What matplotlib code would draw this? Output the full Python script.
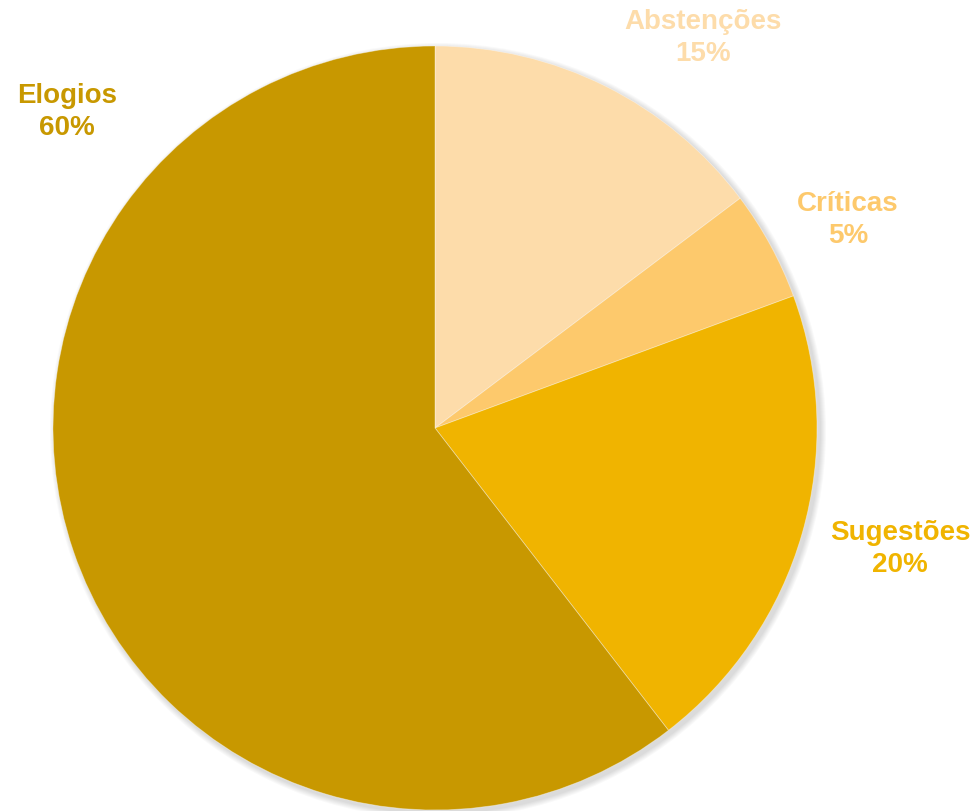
import matplotlib.pyplot as plt
from matplotlib.patches import Circle

# dados do grafico (sentido horario a partir do topo)
categorias = ['Abstenções', 'Críticas', 'Sugestões', 'Elogios']
contagens = [19, 6, 26, 78]
cores = ['#FDDCAA', '#FDC96C', '#F0B400', '#C89800']

total = sum(contagens)

fig = plt.figure(figsize=(9.8, 8.11), dpi=100)
ax = fig.add_axes([0, 0, 1, 1])

centro = (435, 811 - 428)
raio = 382

# sombra suave
for i in range(6):
    ax.add_patch(Circle((centro[0] + 3, centro[1] - 3), raio + 1 + i, color='black',
                        alpha=0.025, lw=0, zorder=0))

ax.pie(contagens, colors=cores, startangle=90, counterclock=False,
       center=centro, radius=raio, frame=True,
       wedgeprops={'linewidth': 0.6, 'edgecolor': (1, 1, 1, 0.4)})
ax.set_xlim(0, 980)
ax.set_ylim(0, 811)
ax.set_aspect('equal')
ax.axis('off')

posicoes = [(703, 38), (848, 220), (900, 549), (67, 112)]
for cat, c, cor, (x, y) in zip(categorias, contagens, cores, posicoes):
    ax.text(x, 811 - y, f'{cat}\n{round(100 * c / total)}%', color=cor,
            ha='center', va='center', fontsize=20, fontweight='bold',
            family='Liberation Sans', linespacing=1.32)

fig.savefig('out.png', dpi=100)
